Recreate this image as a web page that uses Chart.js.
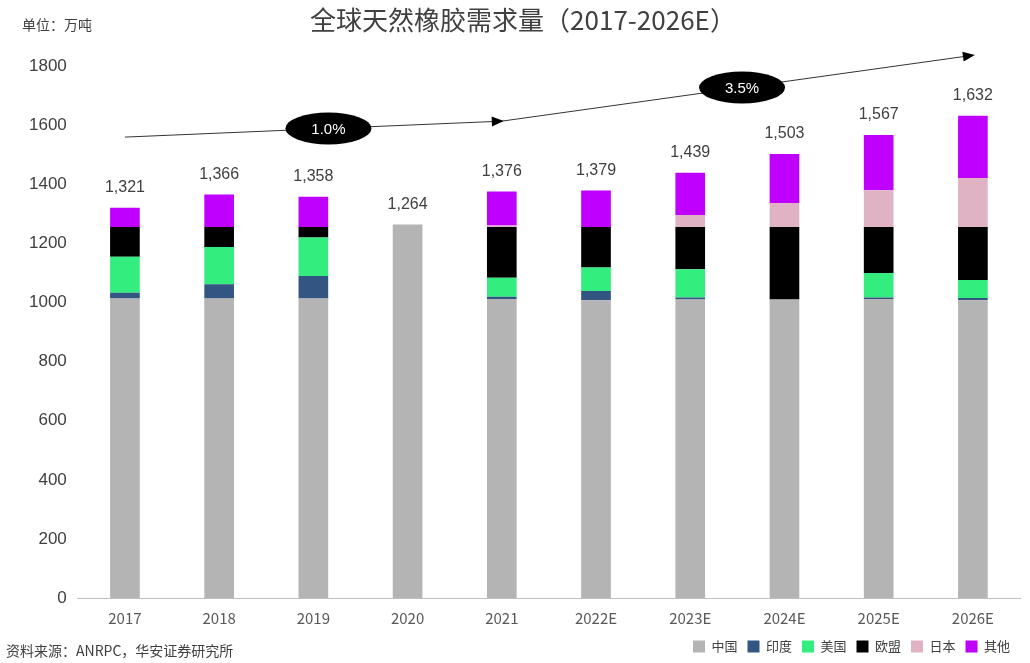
<!DOCTYPE html>
<html>
<head>
<meta charset="utf-8">
<script src="https://cdn.jsdelivr.net/npm/chart.js@4.4.1/dist/chart.umd.min.js"></script>
<style>
  body { margin: 0; background: #fff; }
  #wrap { position: relative; width: 1030px; height: 663px; }
</style>
</head>
<body>
<div id="wrap"><canvas id="grafico" width="1030" height="663"></canvas></div>
<script>
// 年份
var anos = ['2017', '2018', '2019', '2020', '2021', '2022E', '2023E', '2024E', '2025E', '2026E'];
var totais = [1321, 1366, 1358, 1264, 1376, 1379, 1439, 1503, 1567, 1632];

// segmentos empilhados (万吨)
var serieCinza  = [1014, 1014, 1014, 1264, 1012, 1008, 1010, 1010, 1012, 1008];
var serieAzul   = [19, 48, 76, 0, 8, 31, 7, 0, 5, 7];
var serieVerde  = [122, 126, 130, 0, 64, 80, 96, 0, 83, 61];
var seriePreta  = [101, 68, 36, 0, 172, 137, 143, 246, 156, 180];
var serieRosa   = [0, 0, 0, 0, 5, 0, 40, 81, 124, 166];
var serieRoxa   = [65, 110, 102, 0, 115, 123, 143, 166, 187, 210];

var nomesSeries = ['中国', '印度', '美国', '欧盟', '日本', '其他'];

// linha de tendência e CAGR
var tendencia = [1560, null, null, null, 1614, null, null, null, null, 1837];
var cagrTextos = ['1.0%', '3.5%'];
var cagrInicio = [0, 4];
var cagrFim = [4, 9];

var fonte = "'Noto Sans CJK SC', 'Noto Sans', sans-serif";
var fonteNum = "'Liberation Sans', Arial, sans-serif";

var pluginExtras = {
    id: 'extras',
    afterDatasetsDraw: function(chart) {
        var ctx = chart.ctx;
        var x = chart.scales.x, y = chart.scales.y;
        ctx.save();
        // totais acima das barras
        ctx.font = '16px ' + fonteNum;
        ctx.fillStyle = '#404040';
        ctx.textAlign = 'center';
        ctx.textBaseline = 'bottom';
        for (var i in totais) {
            ctx.fillText(totais[i].toLocaleString('en-US'), x.getPixelForValue(Number(i)), y.getPixelForValue(totais[i]) - 12);
        }
        // setas
        ctx.fillStyle = '#000';
        for (var k = 0; k < cagrFim.length; k++) {
            var a = cagrInicio[k], b = cagrFim[k];
            var x1 = x.getPixelForValue(a), y1 = y.getPixelForValue(tendencia[a]);
            var x2 = x.getPixelForValue(b), y2 = y.getPixelForValue(tendencia[b]);
            var ang = Math.atan2(y2 - y1, x2 - x1);
            ctx.save();
            ctx.translate(x2, y2);
            ctx.rotate(ang);
            ctx.beginPath();
            ctx.moveTo(2, 0);
            ctx.lineTo(-10, -5);
            ctx.lineTo(-10, 5);
            ctx.closePath();
            ctx.fill();
            ctx.restore();
        }
        // elipses CAGR
        var fr = [0.54, 0.51];
        for (var k = 0; k < cagrTextos.length; k++) {
            var a = cagrInicio[k], b = cagrFim[k];
            var xa = x.getPixelForValue(a), ya = y.getPixelForValue(tendencia[a]);
            var xb = x.getPixelForValue(b), yb = y.getPixelForValue(tendencia[b]);
            var cx = xa + (xb - xa) * fr[k], cy = ya + (yb - ya) * fr[k];
            ctx.beginPath();
            ctx.ellipse(cx, cy, 43, 16, 0, 0, Math.PI * 2);
            ctx.fillStyle = '#000';
            ctx.fill();
            ctx.fillStyle = '#fff';
            ctx.font = '15px ' + fonteNum;
            ctx.textAlign = 'center';
            ctx.textBaseline = 'middle';
            ctx.fillText(cagrTextos[k], cx, cy + 1);
        }
        // unidade e fonte
        ctx.fillStyle = '#404040';
        ctx.font = '14px ' + fonte;
        ctx.textAlign = 'left';
        ctx.textBaseline = 'middle';
        ctx.fillText('单位：万吨', 22, 25);
        ctx.fillText('资料来源：ANRPC，华安证券研究所', 6, 651);
        ctx.restore();
    }
};

function MontaGrafico() {
    var cores = ['#b4b4b4', '#335582', '#33ee7e', '#000000', '#dfb3c3', '#c000ff'];
    var series = [serieCinza, serieAzul, serieVerde, seriePreta, serieRosa, serieRoxa];
    var datasets = [];
    for (var i in series) {
        datasets.push({
            type: 'bar',
            label: nomesSeries[i],
            data: series[i],
            backgroundColor: cores[i],
            barPercentage: 0.63,
            categoryPercentage: 0.5,
            stack: 's'
        });
    }
    datasets.push({
        type: 'line',
        label: 'tendencia',
        data: tendencia,
        spanGaps: true,
        borderColor: '#333',
        borderWidth: 1,
        pointRadius: 0,
        tension: 0,
        clip: false
    });

    new Chart(document.getElementById('grafico'), {
        type: 'bar',
        data: { labels: anos, datasets: datasets },
        options: {
            responsive: false,
            animation: false,
            layout: { padding: { left: 26, right: 10, top: 0, bottom: 0 } },
            plugins: {
                title: {
                    display: true,
                    text: '全球天然橡胶需求量（2017-2026E）',
                    color: '#404040',
                    font: { size: 26, family: fonte, weight: 'normal' },
                    padding: { top: 5, bottom: 30 }
                },
                legend: {
                    position: 'bottom',
                    align: 'end',
                    labels: {
                        filter: function(item) { return item.text !== 'tendencia'; },
                        boxWidth: 12,
                        boxHeight: 12,
                        color: '#404040',
                        font: { size: 13, family: fonte },
                        padding: 10
                    }
                },
                tooltip: { enabled: false }
            },
            scales: {
                x: {
                    stacked: true,
                    grid: { display: false },
                    border: { color: '#bfbfbf' },
                    ticks: { color: '#595959', font: { size: 15, family: fonte } }
                },
                y: {
                    stacked: true,
                    min: 0,
                    max: 1800,
                    grid: { display: false },
                    border: { display: false },
                    ticks: {
                        stepSize: 200,
                        color: '#404040',
                        font: { size: 17, family: fonteNum },
                        callback: function(v) { return String(v); }
                    }
                }
            }
        },
        plugins: [pluginExtras]
    });
}

MontaGrafico();
</script>
</body>
</html>
